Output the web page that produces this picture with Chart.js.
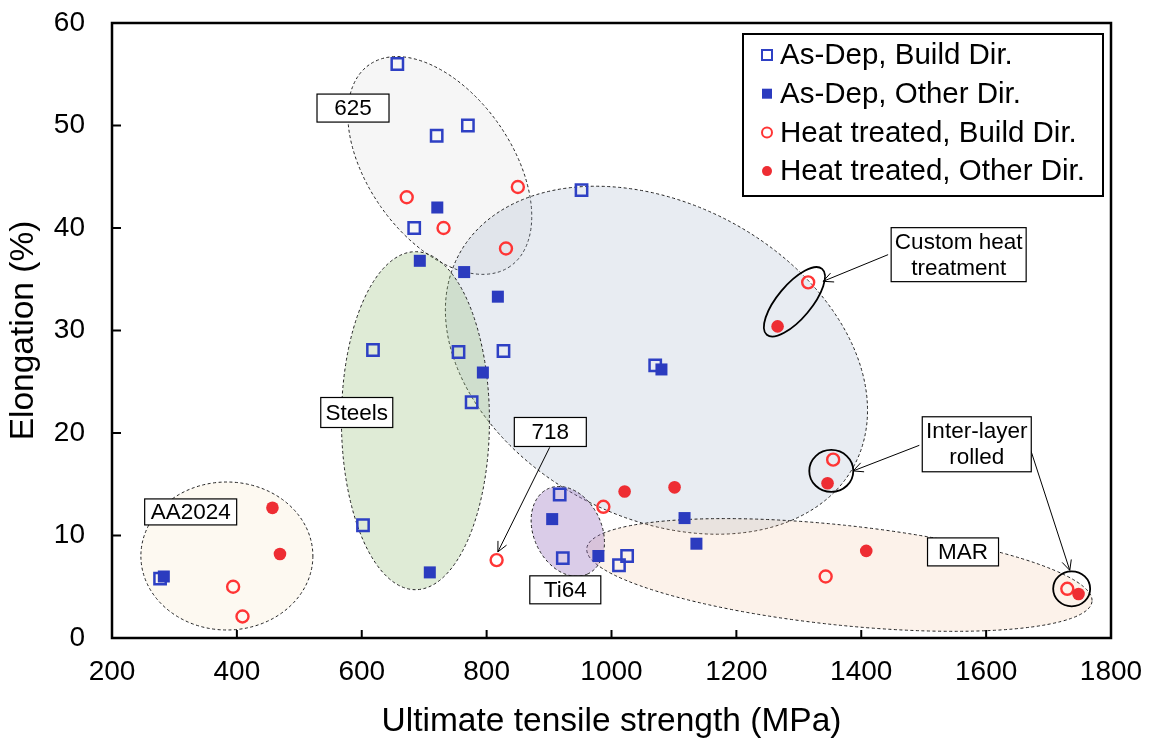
<!DOCTYPE html>
<html>
<head>
<meta charset="utf-8">
<script src="https://cdn.jsdelivr.net/npm/chart.js@4.4.1/dist/chart.umd.min.js"></script>
<style>
  html, body { margin: 0; padding: 0; background: #fff; }
  #wrap { width: 1150px; height: 742px; }
</style>
</head>
<body>
<div id="wrap"><canvas id="chart" width="1150" height="742"></canvas></div>
<script>
// UTS (MPa) vs elongation (%) for each condition / direction
const asDepBuildUTS  = [657, 720, 770, 684, 952, 827, 755, 776, 618, 602, 1070, 917, 922, 1025, 1012, 277];
const asDepBuildEl   = [56, 49, 50, 40, 43.7, 28, 27.9, 23, 28.1, 11, 26.6, 14, 7.8, 8, 7.1, 5.8];
const asDepOtherUTS  = [721, 693, 764, 818, 794, 1080, 709, 905, 979, 1117, 1136, 283];
const asDepOtherEl   = [42, 36.8, 35.7, 33.3, 25.9, 26.2, 6.4, 11.6, 8, 11.7, 9.2, 6];
const htBuildUTS     = [672, 731, 850, 831, 816, 987, 1315, 1355, 1343, 1730, 394, 409];
const htBuildEl      = [43, 40, 44, 38, 7.6, 12.8, 34.7, 17.4, 6, 4.8, 5, 2.1];
const htOtherUTS     = [1021, 1101, 1266, 1346, 1408, 1748, 457, 469];
const htOtherEl      = [14.3, 14.7, 30.4, 15.1, 8.5, 4.3, 12.7, 8.2];

const seriesNames = ["As-Dep, Build Dir.", "As-Dep, Other Dir.", "Heat treated, Build Dir.", "Heat treated, Other Dir."];
const xTicks = [200, 400, 600, 800, 1000, 1200, 1400, 1600, 1800];
const yTicks = [0, 10, 20, 30, 40, 50, 60];

const FONT = "'Liberation Sans', Arial, sans-serif";
const BLUE = "#2e40c4", BLUE_FILL = "#2b3bbf", RED = "#ff3535", RED_FILL = "#ee2d33";

const pts = (xs, ys) => xs.map((x, i) => ({ x, y: ys[i] }));

// alloy families: centre in data units, semi-axes in px, tilt in degrees
const regions = [
  { cx: 725,  cy: 46.1, a: 123, b: 72,  rot: 55, fill: "rgba(215,215,215,0.22)" },
  { cx: 1072, cy: 27.1, a: 224, b: 157, rot: 28, fill: "rgba(165,178,205,0.25)" },
  { cx: 686,  cy: 21.2, a: 74,  b: 169, rot: 0,  fill: "rgba(150,190,120,0.30)" },
  { cx: 384,  cy: 8.0,  a: 86,  b: 74,  rot: 0,  fill: "rgba(245,215,170,0.16)" },
  { cx: 1365, cy: 6.15, a: 254, b: 50,  rot: 6,  fill: "rgba(240,190,150,0.20)" },
  { cx: 930,  cy: 10.4, a: 47,  b: 34,  rot: 65, fill: "rgba(150,110,190,0.35)" },
];
// solid rings around highlighted points
const rings = [
  { cx: 1293, cy: 32.8, a: 43,   b: 17,   rot: -50 },
  { cx: 1352, cy: 16.3, a: 22,   b: 21,   rot: 0 },
  { cx: 1737, cy: 4.8,  a: 18.5, b: 17.5, rot: 0 },
];
const labels = [
  { text: ["625"],                     x: 586,  y: 51.7, w: 72,  h: 28 },
  { text: ["Steels"],                  x: 592,  y: 22.0, w: 72,  h: 30 },
  { text: ["718"],                     x: 902,  y: 20.1, w: 72,  h: 29 },
  { text: ["AA2024"],                  x: 326,  y: 12.3, w: 92,  h: 26 },
  { text: ["Ti64"],                    x: 926,  y: 4.7,  w: 71,  h: 28 },
  { text: ["MAR"],                     x: 1563, y: 8.4,  w: 71,  h: 28 },
  { text: ["Custom heat", "treatment"], x: 1556, y: 37.4, w: 135, h: 54 },
  { text: ["Inter-layer", "rolled"],    x: 1585, y: 18.9, w: 109, h: 55 },
];
const arrows = [
  { x1: 901,  y1: 18.6, x2: 818,  y2: 8.4 },
  { x1: 1443, y1: 37.4, x2: 1339, y2: 34.8 },
  { x1: 1493, y1: 18.8, x2: 1387, y2: 16.3 },
  { x1: 1670, y1: 18.6, x2: 1734, y2: 6.6 },
];

function ellipsePath(ctx, sx, sy, r) {
  ctx.beginPath();
  ctx.ellipse(sx.getPixelForValue(r.cx), sy.getPixelForValue(r.cy), r.a, r.b, r.rot * Math.PI / 180, 0, Math.PI * 2);
}

const annotations = {
  id: "annotations",
  beforeDatasetsDraw(chart) {
    const { ctx, scales: { x, y } } = chart;
    ctx.save();
    regions.forEach(r => {
      ellipsePath(ctx, x, y, r);
      ctx.fillStyle = r.fill;
      ctx.fill();
      ctx.setLineDash([3, 2.5]);
      ctx.lineWidth = 1;
      ctx.strokeStyle = "#222";
      ctx.stroke();
    });
    ctx.restore();
  },
  afterDatasetsDraw(chart) {
    const { ctx, chartArea: ca, scales: { x, y } } = chart;
    ctx.save();
    ctx.setLineDash([]);
    ctx.strokeStyle = "#000";
    ctx.lineWidth = 1.8;
    rings.forEach(r => { ellipsePath(ctx, x, y, r); ctx.stroke(); });

    // arrows
    ctx.lineWidth = 1;
    arrows.forEach(a => {
      const x1 = x.getPixelForValue(a.x1), y1 = y.getPixelForValue(a.y1);
      const x2 = x.getPixelForValue(a.x2), y2 = y.getPixelForValue(a.y2);
      const ang = Math.atan2(y2 - y1, x2 - x1), hl = 11, hw = 0.45;
      ctx.beginPath();
      ctx.moveTo(x1, y1); ctx.lineTo(x2, y2);
      ctx.moveTo(x2 - hl * Math.cos(ang - hw), y2 - hl * Math.sin(ang - hw));
      ctx.lineTo(x2, y2);
      ctx.lineTo(x2 - hl * Math.cos(ang + hw), y2 - hl * Math.sin(ang + hw));
      ctx.stroke();
    });

    // text boxes
    ctx.font = "22.5px " + FONT;
    ctx.textAlign = "center";
    ctx.textBaseline = "middle";
    labels.forEach(l => {
      const cx = x.getPixelForValue(l.x), cy = y.getPixelForValue(l.y);
      ctx.fillStyle = "#fff";
      ctx.fillRect(cx - l.w / 2, cy - l.h / 2, l.w, l.h);
      ctx.lineWidth = 1.2;
      ctx.strokeStyle = "#000";
      ctx.strokeRect(cx - l.w / 2, cy - l.h / 2, l.w, l.h);
      ctx.fillStyle = "#000";
      const lh = 26, y0 = cy - (l.text.length - 1) * lh / 2 + 1;
      l.text.forEach((t, i) => ctx.fillText(t, cx, y0 + i * lh));
    });

    // legend box
    const lx = ca.right - 368, ly = ca.top + 11, lw = 360, lhgt = 162;
    ctx.fillStyle = "#fff";
    ctx.fillRect(lx, ly, lw, lhgt);
    ctx.lineWidth = 2;
    ctx.strokeStyle = "#000";
    ctx.strokeRect(lx, ly, lw, lhgt);
    ctx.font = "29.5px " + FONT;
    ctx.textAlign = "left";
    seriesNames.forEach((name, i) => {
      const my = ly + 21 + i * 38.7, mx = lx + 24;
      ctx.beginPath();
      if (i === 0) { ctx.lineWidth = 2; ctx.strokeStyle = BLUE; ctx.strokeRect(mx - 5, my - 5, 10, 10); }
      if (i === 1) { ctx.fillStyle = BLUE_FILL; ctx.fillRect(mx - 5, my - 5, 10, 10); }
      if (i === 2) { ctx.lineWidth = 2; ctx.strokeStyle = RED; ctx.arc(mx, my, 5, 0, Math.PI * 2); ctx.stroke(); }
      if (i === 3) { ctx.fillStyle = RED_FILL; ctx.arc(mx, my, 5, 0, Math.PI * 2); ctx.fill(); }
      ctx.fillStyle = "#000";
      ctx.fillText(name, lx + 37, my + 1);
    });

    // frame and inward ticks
    ctx.lineWidth = 2.5;
    ctx.strokeStyle = "#000";
    ctx.strokeRect(ca.left, ca.top, ca.right - ca.left, ca.bottom - ca.top);
    ctx.lineWidth = 2;
    ctx.beginPath();
    xTicks.slice(1, -1).forEach(v => {
      const px = x.getPixelForValue(v);
      ctx.moveTo(px, ca.bottom); ctx.lineTo(px, ca.bottom - 8);
    });
    yTicks.slice(1, -1).forEach(v => {
      const py = y.getPixelForValue(v);
      ctx.moveTo(ca.left, py); ctx.lineTo(ca.left + 9, py);
    });
    ctx.stroke();
    ctx.restore();
  },
};

new Chart(document.getElementById("chart"), {
  type: "scatter",
  data: {
    datasets: [
      { label: seriesNames[0], data: pts(asDepBuildUTS, asDepBuildEl), pointStyle: "rect", pointRadius: 8,
        borderColor: BLUE, backgroundColor: "rgba(0,0,0,0)", borderWidth: 2.5, order: 4 },
      { label: seriesNames[1], data: pts(asDepOtherUTS, asDepOtherEl), pointStyle: "rect", pointRadius: 8.5,
        borderColor: BLUE_FILL, backgroundColor: BLUE_FILL, borderWidth: 0, order: 3 },
      { label: seriesNames[2], data: pts(htBuildUTS, htBuildEl), pointStyle: "circle", pointRadius: 6,
        borderColor: RED, backgroundColor: "rgba(0,0,0,0)", borderWidth: 2.4, order: 2 },
      { label: seriesNames[3], data: pts(htOtherUTS, htOtherEl), pointStyle: "circle", pointRadius: 6.3,
        borderColor: RED_FILL, backgroundColor: RED_FILL, borderWidth: 0, order: 1 },
    ],
  },
  options: {
    responsive: false,
    animation: false,
    devicePixelRatio: 1,
    layout: { padding: { top: 23, right: 39, bottom: 0, left: 0 } },
    plugins: { legend: { display: false }, tooltip: { enabled: false } },
    scales: {
      x: {
        type: "linear", min: 200, max: 1800,
        afterBuildTicks: s => { s.ticks = xTicks.map(v => ({ value: v })); },
        afterFit: s => { s.height = 104; s.paddingLeft = 0; s.paddingRight = 0; },
        grid: { display: false, drawTicks: false },
        border: { display: false },
        ticks: { color: "#000", font: { family: FONT, size: 28 }, padding: 17, callback: v => String(v) },
        title: { display: true, text: "Ultimate tensile strength (MPa)", color: "#000",
                 font: { family: FONT, size: 33.5 }, padding: { top: 0, bottom: 0 } },
      },
      y: {
        type: "linear", min: 0, max: 60,
        afterBuildTicks: s => { s.ticks = yTicks.map(v => ({ value: v })); },
        afterFit: s => { s.width = 112; s.paddingTop = 0; s.paddingBottom = 0; },
        grid: { display: false, drawTicks: false },
        border: { display: false },
        ticks: { color: "#000", font: { family: FONT, size: 28 }, padding: 27, callback: v => String(v) },
        title: { display: true, text: "Elongation (%)", color: "#000",
                 font: { family: FONT, size: 33.5 }, padding: { top: 4, bottom: 0 } },
      },
    },
  },
  plugins: [annotations],
});
</script>
</body>
</html>
